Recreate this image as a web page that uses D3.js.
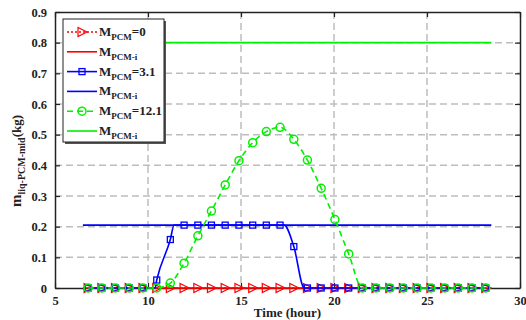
<!DOCTYPE html>
<html>
<head>
<meta charset="utf-8">
<script src="https://cdn.jsdelivr.net/npm/d3@7"></script>
<style>
  body { margin: 0; background: #fff; }
  text { font-family: "Liberation Serif", "Times New Roman", serif; font-weight: bold; }
</style>
</head>
<body>
<div id="chart"></div>
<script>
// time of each marked sample (hour)
const hours = [6.78, 7.52, 8.25, 8.99, 9.73, 10.47, 11.20, 11.94, 12.68, 13.41,
               14.15, 14.89, 15.63, 16.36, 17.10, 17.84, 18.57, 19.31, 20.05, 20.79,
               21.52, 22.26, 23.00, 23.73, 24.47, 25.21, 25.95, 26.68, 27.42, 28.16];

const mPcm0 = [0, 0, 0, 0, 0, 0, 0, 0, 0, 0, 0, 0, 0, 0, 0,
               0, 0, 0, 0, 0, 0, 0, 0, 0, 0, 0, 0, 0, 0, 0];
const mPcm31 = [0, 0, 0, 0, 0, 0.026, 0.158, 0.205, 0.205, 0.205, 0.205, 0.205, 0.205, 0.205, 0.205,
                0.135, 0, 0, 0, 0, 0, 0, 0, 0, 0, 0, 0, 0, 0, 0];
const mPcm121 = [0, 0, 0, 0, 0, 0, 0.016, 0.081, 0.170, 0.251, 0.336, 0.415, 0.474, 0.510, 0.524,
                 0.485, 0.417, 0.325, 0.223, 0.111, 0, 0, 0, 0, 0, 0, 0, 0, 0, 0];
// extra unmarked knots of the 3.1 curve
const mPcm31Knots = [[10.38, 0], [11.40, 0.205], [17.32, 0.205], [18.40, 0]];

// M_PCM-i reference lines
const refHours = [6.5, 28.46];
const refLevels = [0, 0.205, 0.8];

const xTicks = [5, 10, 15, 20, 25, 30];
const yTicks = [0, 0.1, 0.2, 0.3, 0.4, 0.5, 0.6, 0.7, 0.8, 0.9];

const W = 526, H = 320;
const margin = { top: 12, right: 6, bottom: 32, left: 55 },
      width = W - margin.left - margin.right,
      height = H - margin.top - margin.bottom;

const svg = d3.select("#chart").append("svg")
              .attr("width", W).attr("height", H);
const g = svg.append("g").attr("transform", `translate(${margin.left},${margin.top})`);

const x = d3.scaleLinear().domain([5, 30]).range([0, width]);
const y = d3.scaleLinear().domain([0, 0.9]).range([height, 0]);

// grid
g.append("g").selectAll("line").data(xTicks.slice(1, -1)).enter().append("line")
 .attr("x1", d => x(d)).attr("x2", d => x(d)).attr("y1", 0).attr("y2", height)
 .attr("stroke", "#bdbdbd").attr("stroke-width", 1.5).attr("stroke-dasharray", "7,4");
g.append("g").selectAll("line").data(yTicks.slice(1, -1)).enter().append("line")
 .attr("y1", d => y(d)).attr("y2", d => y(d)).attr("x1", 0).attr("x2", width)
 .attr("stroke", "#bdbdbd").attr("stroke-width", 1.5).attr("stroke-dasharray", "7,4");

// axes (box, inward ticks)
const axB = g.append("g").attr("transform", `translate(0,${height})`)
  .call(d3.axisBottom(x).tickValues(xTicks).tickSizeInner(-5).tickSizeOuter(0).tickPadding(8));
const axT = g.append("g")
  .call(d3.axisTop(x).tickValues(xTicks).tickSizeInner(-5).tickSizeOuter(0).tickFormat(""));
const axL = g.append("g")
  .call(d3.axisLeft(y).tickValues(yTicks).tickSizeInner(-5).tickSizeOuter(0).tickPadding(8)
        .tickFormat(d => d === 0 ? "0" : d3.format(".1f")(d)));
const axR = g.append("g").attr("transform", `translate(${width},0)`)
  .call(d3.axisRight(y).tickValues(yTicks).tickSizeInner(-5).tickSizeOuter(0).tickFormat(""));
[axB, axT, axL, axR].forEach(a => {
  a.select(".domain").attr("stroke", "#222").attr("stroke-width", 1.5);
  a.selectAll(".tick line").attr("stroke", "#222").attr("stroke-width", 1.2);
  a.selectAll("text").attr("font-size", 12.5).attr("fill", "#222")
   .style("font-family", "'Liberation Serif', serif").style("font-weight", "bold");
});

const line = d3.line().x(d => x(d[0])).y(d => y(d[1])).curve(d3.curveMonotoneX);

const colors = ["#ff0000", "#0000ff", "#00f000"];

function refLine(level, color) {
  g.append("path").datum(refHours.map(h => [h, level]))
   .attr("fill", "none").attr("stroke", color).attr("stroke-width", 1.6).attr("d", line);
}

// red
refLine(refLevels[0], colors[0]);
const red = hours.map((h, i) => [h, mPcm0[i]]);
g.append("path").datum(red).attr("fill", "none").attr("stroke", colors[0])
 .attr("stroke-width", 1.6).attr("stroke-dasharray", "2,2").attr("d", line);
const tri = "M-4,-4.5L5,0L-4,4.5Z";
g.append("g").selectAll("path").data(red).enter().append("path")
 .attr("d", tri).attr("transform", d => `translate(${x(d[0])},${y(d[1])})`)
 .attr("fill", "none").attr("stroke", colors[0]).attr("stroke-width", 1.2);

// blue
refLine(refLevels[1], colors[1]);
const blue = hours.map((h, i) => [h, mPcm31[i]]);
const blueCurve = blue.concat(mPcm31Knots).sort((a, b) => a[0] - b[0]);
g.append("path").datum(blueCurve).attr("fill", "none").attr("stroke", colors[1])
 .attr("stroke-width", 1.6).attr("d", line);
g.append("g").selectAll("rect").data(blue).enter().append("rect")
 .attr("x", d => x(d[0]) - 3).attr("y", d => y(d[1]) - 3).attr("width", 6).attr("height", 6)
 .attr("fill", "none").attr("stroke", colors[1]).attr("stroke-width", 1.3);

// green
refLine(refLevels[2], colors[2]);
const green = hours.map((h, i) => [h, mPcm121[i]]);
g.append("path").datum(green).attr("fill", "none").attr("stroke", colors[2])
 .attr("stroke-width", 1.6).attr("stroke-dasharray", "6,4").attr("d", line);
g.append("g").selectAll("circle").data(green).enter().append("circle")
 .attr("cx", d => x(d[0])).attr("cy", d => y(d[1])).attr("r", 4)
 .attr("fill", "none").attr("stroke", colors[2]).attr("stroke-width", 1.5);

// axis labels
svg.append("text").attr("x", margin.left + width / 2).attr("y", 317)
   .attr("text-anchor", "middle").attr("font-size", 13).attr("fill", "#222")
   .text("Time (hour)");

const yl = svg.append("text").attr("transform", "translate(21,161) rotate(-90)")
   .attr("text-anchor", "middle").attr("fill", "#222").attr("font-size", 15);
yl.append("tspan").text("m");
yl.append("tspan").attr("font-size", 10).attr("dy", 4).text("liq-PCM-mid");
yl.append("tspan").attr("font-size", 13).attr("dy", -4).text("(kg)");

// legend
const legendItems = [
  { color: colors[0], dash: "2,2", marker: "tri", suffix: "=0" },
  { color: colors[0], dash: null, marker: null, suffix: "-i" },
  { color: colors[1], dash: null, marker: "sq", suffix: "=3.1" },
  { color: colors[1], dash: null, marker: null, suffix: "-i" },
  { color: colors[2], dash: "6,4", marker: "circ", suffix: "=12.1" },
  { color: colors[2], dash: null, marker: null, suffix: "-i" }
];

const legend = svg.append("g").attr("transform", "translate(63,19)");
legend.append("rect").attr("x", 2).attr("y", 2).attr("width", 101).attr("height", 123).attr("fill", "#555");
legend.append("rect").attr("width", 101).attr("height", 123)
      .attr("fill", "#fff").attr("stroke", "#222").attr("stroke-width", 1);

legendItems.forEach((d, i) => {
  const ly = 13 + i * 19.8;
  legend.append("line").attr("x1", 4).attr("x2", 34).attr("y1", ly).attr("y2", ly)
        .attr("stroke", d.color).attr("stroke-width", 1.6)
        .attr("stroke-dasharray", d.dash);
  if (d.marker === "tri") {
    legend.append("path").attr("d", tri).attr("transform", `translate(19,${ly})`)
          .attr("fill", "none").attr("stroke", d.color).attr("stroke-width", 1.2);
  } else if (d.marker === "sq") {
    legend.append("rect").attr("x", 16).attr("y", ly - 3).attr("width", 6).attr("height", 6)
          .attr("fill", "none").attr("stroke", d.color).attr("stroke-width", 1.3);
  } else if (d.marker === "circ") {
    legend.append("circle").attr("cx", 19).attr("cy", ly).attr("r", 4)
          .attr("fill", "none").attr("stroke", d.color).attr("stroke-width", 1.5);
  }
  const t = legend.append("text").attr("x", 36).attr("y", ly + 4)
                  .attr("font-size", 13).attr("fill", "#222");
  t.append("tspan").text("M");
  const isRef = d.suffix === "-i";
  t.append("tspan").attr("font-size", 9).attr("dy", 4).text(isRef ? "PCM-i" : "PCM");
  if (!isRef) t.append("tspan").attr("dy", -4).text(d.suffix);
});
</script>
</body>
</html>
